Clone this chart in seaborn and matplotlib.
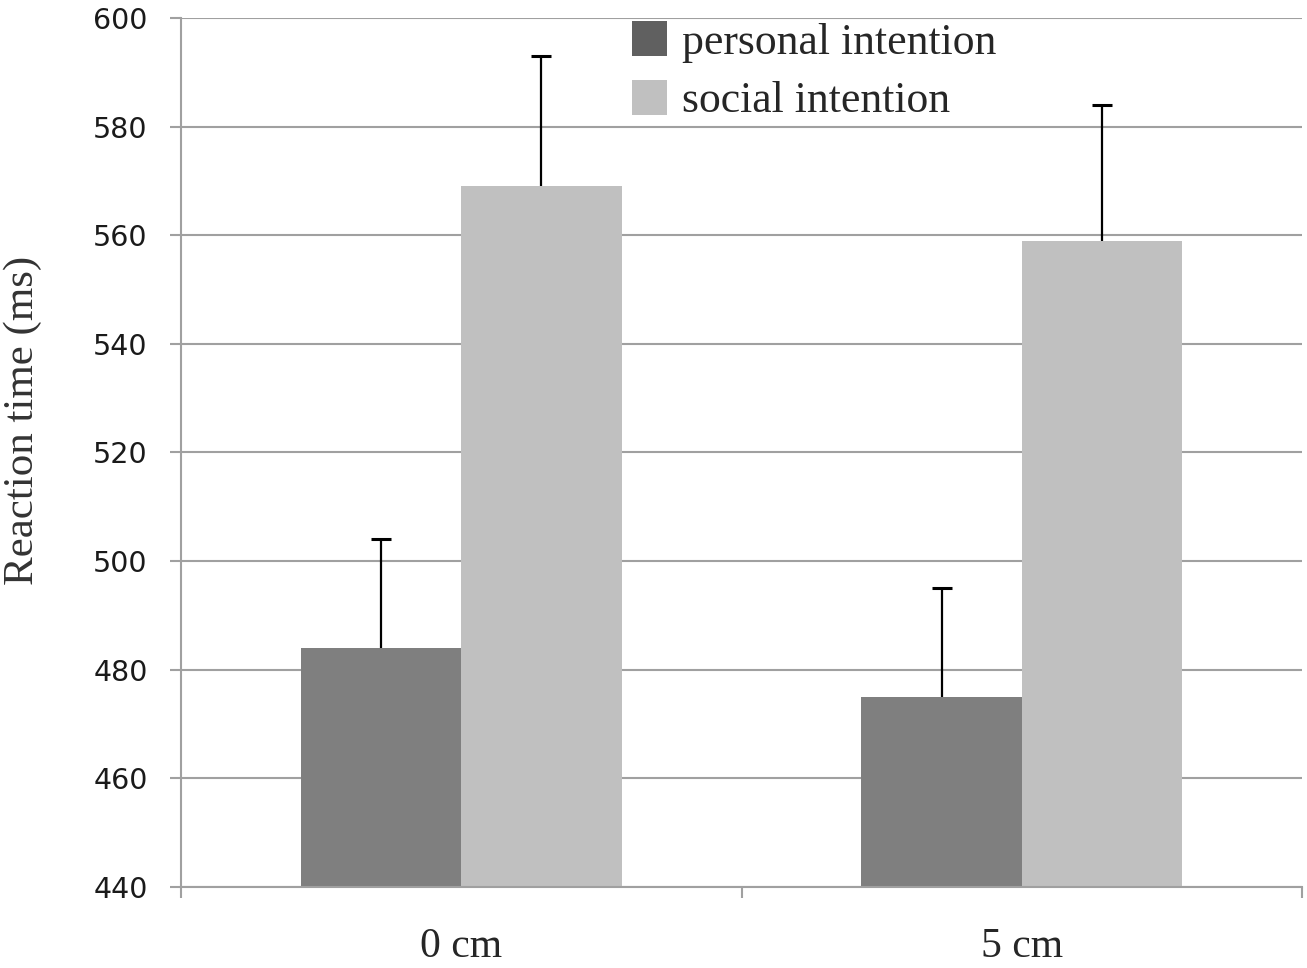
"""
Reaction time by distance and intention (bar chart with SE bars)
"""
import matplotlib
matplotlib.use('Agg')
import matplotlib.pyplot as plt
import seaborn as sns
import numpy as np
import pandas as pd

# data
distances = ['0 cm', '5 cm']
personal_rt = [484, 475]
personal_err = [20, 20]
social_rt = [569, 559]
social_err = [24, 25]
conditions = ['personal intention', 'social intention']

df = pd.DataFrame({
    'distance': distances * 2,
    'condition': [conditions[0]] * 2 + [conditions[1]] * 2,
    'rt': personal_rt + social_rt,
    'err': personal_err + social_err,
})

sns.set_style('white')
serif = ['Liberation Serif', 'DejaVu Serif']
plt.rcParams['font.family'] = ['DejaVu Sans']

fig = plt.figure(figsize=(13.07, 9.68), dpi=100)
ax = fig.add_axes([0.1385, 0.0837, 0.9962 - 0.1385, 0.9814 - 0.0837])

palette = {'personal intention': '#7f7f7f', 'social intention': '#c0c0c0'}
sns.barplot(data=df, x='distance', y='rt', hue='condition', order=distances,
            hue_order=conditions, palette=palette, width=0.572, errorbar=None,
            linewidth=0, saturation=1, legend=False, ax=ax)

# upward-only error bars, cap on top only
for cont, cond in zip(ax.containers, conditions):
    errs = df[df['condition'] == cond].set_index('distance').loc[distances, 'err'].values
    xs = np.array([p.get_x() + p.get_width() / 2 for p in cont.patches])
    ys = np.array([p.get_y() + p.get_height() for p in cont.patches])
    ax.vlines(xs, ys, ys + errs, color='black', linewidth=1.6, zorder=3)
    ax.plot(xs, ys + errs, linestyle='none', marker='_', markersize=14,
            markeredgewidth=2.2, color='black', zorder=3)

ax.set_ylim(440, 600)
ax.set_xlim(-0.5, 1.5)
ax.set_yticks(np.arange(440, 601, 20))
ax.yaxis.grid(True, color='#a0a0a0', linewidth=1.5)
ax.set_axisbelow(True)

for side in ['top', 'right']:
    ax.spines[side].set_visible(False)
for side in ['left', 'bottom']:
    ax.spines[side].set_color('#a0a0a0')
    ax.spines[side].set_linewidth(1.5)

ax.tick_params(axis='y', length=8, width=1.5, color='#a0a0a0', pad=16,
               labelsize=20.5, labelcolor='#1a1a1a', direction='out', left=True)
ax.set_xticks([0, 1])
ax.set_xticklabels(distances, fontsize=30, family=serif)
ax.set_xticks([-0.5, 0.5, 1.5], minor=True)
ax.tick_params(axis='x', which='major', length=0, pad=29)
ax.tick_params(axis='x', which='minor', length=8, width=1.5, color='#a0a0a0',
               direction='out', bottom=True)

ax.set_xlabel('')
ax.set_ylabel('Reaction time (ms)', fontsize=31, family=serif, color='#333333')
ax.yaxis.set_label_coords(-0.124, 0.537)

handles = [plt.Rectangle((0, 0), 1, 1, facecolor=c, edgecolor='none')
           for c in ['#606060', '#c0c0c0']]
ax.legend(handles, conditions, loc='upper left', bbox_to_anchor=(0.402, 0.996),
          frameon=False, prop={'family': serif, 'size': 31.5},
          handlelength=0.8, handleheight=0.85, handletextpad=0.35,
          labelspacing=0.38, borderpad=0, borderaxespad=0)

plt.savefig('out.png', dpi=100)
